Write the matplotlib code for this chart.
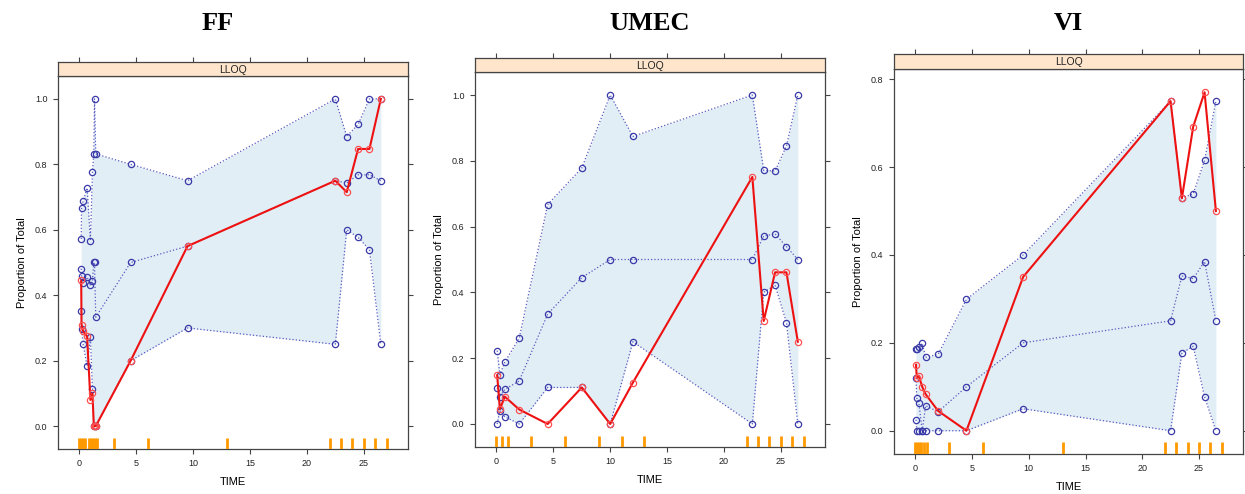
import matplotlib
matplotlib.use('Agg')
import matplotlib.pyplot as plt
from matplotlib.transforms import blended_transform_factory

# ---- FF ----
ff_time = [0.15, 0.18, 0.32, 0.67, 0.96, 1.14, 1.26, 1.32, 1.43, 4.5, 9.5, 22.5, 23.5, 24.5, 25.5, 26.5]
ff_hi = [0.572, 0.667, 0.687, 0.728, 0.567, 0.777, 0.832, 1.0, 0.832, 0.80, 0.75, 1.0, 0.885, 0.922, 1.0, 1.0]
ff_med = [0.481, 0.46, 0.436, 0.455, 0.43, 0.444, 0.50, 0.50, 0.333, 0.50, 0.55, 0.75, 0.743, 0.768, 0.768, 0.75]
ff_lo = [0.352, 0.296, 0.25, 0.183, 0.271, 0.113, 0.0, 0.0, 0.0, 0.20, 0.30, 0.25, 0.60, 0.577, 0.539, 0.25]
ff_obs = [0.445, 0.31, 0.29, 0.274, 0.08, 0.10, 0.0, 0.0, 0.0, 0.20, 0.55, 0.75, 0.715, 0.847, 0.847, 1.0]
ff_rug = [0, 0.17, 0.33, 0.5, 0.83, 1, 1.17, 1.33, 1.5, 3, 6, 13, 22, 23, 24, 25, 26, 27]

# ---- UMEC ----
umec_time = [0.06, 0.3, 0.73, 2.0, 4.5, 7.5, 10, 12, 22.5, 23.5, 24.5, 25.5, 26.5]
umec_hi = [0.223, 0.15, 0.188, 0.261, 0.667, 0.778, 1.0, 0.874, 1.0, 0.771, 0.769, 0.845, 1.0]
umec_med = [0.11, 0.083, 0.105, 0.131, 0.334, 0.445, 0.50, 0.50, 0.50, 0.571, 0.578, 0.539, 0.50]
umec_lo = [0.0, 0.04, 0.022, 0.0, 0.111, 0.111, 0.0, 0.25, 0.0, 0.40, 0.422, 0.308, 0.0]
umec_obs = [0.148, 0.045, 0.083, 0.044, 0.0, 0.111, 0.0, 0.126, 0.751, 0.313, 0.461, 0.461, 0.25]
umec_rug = [0, 0.5, 1, 3, 6, 9, 11, 13, 22, 23, 24, 25, 26, 27]

# ---- VI ----
vi_time = [0.05, 0.12, 0.3, 0.6, 0.9, 2.0, 4.5, 9.5, 22.5, 23.5, 24.5, 25.5, 26.5]
vi_hi = [0.186, 0.186, 0.19, 0.199, 0.167, 0.174, 0.299, 0.40, 0.75, 0.529, 0.539, 0.615, 0.75]
vi_med = [0.12, 0.074, 0.063, 0.0, 0.057, 0.043, 0.10, 0.20, 0.25, 0.352, 0.346, 0.385, 0.25]
vi_lo = [0.025, 0.0, 0.0, 0.0, 0.0, 0.0, 0.0, 0.05, 0.0, 0.177, 0.192, 0.077, 0.0]
vi_obs = [0.15, 0.12, 0.125, 0.10, 0.083, 0.045, 0.0, 0.35, 0.75, 0.529, 0.692, 0.77, 0.50]
vi_rug = [0, 0.17, 0.33, 0.5, 0.75, 1, 3, 6, 13, 22, 23, 24, 25, 26, 27]

titles = ['FF', 'UMEC', 'VI']
strip_label = 'LLOQ'
x_ticks = [0, 5, 10, 15, 20, 25]

plt.rcParams['font.family'] = ['Liberation Sans', 'DejaVu Sans']

fig = plt.figure(figsize=(12.45, 4.94), dpi=100)

# panel boxes in pixels: left, right, strip top, axis top, axis bottom
boxes = [(58, 408, 62, 76, 449), (475, 825, 58, 72, 447), (894, 1243, 54, 69, 454)]
title_x = [218, 650, 1068]
W, H = 1245, 494

panels = [
    (ff_time, ff_hi, ff_med, ff_lo, ff_obs, ff_rug, (-0.07, 1.07), [0, 0.2, 0.4, 0.6, 0.8, 1.0]),
    (umec_time, umec_hi, umec_med, umec_lo, umec_obs, umec_rug, (-0.07, 1.07), [0, 0.2, 0.4, 0.6, 0.8, 1.0]),
    (vi_time, vi_hi, vi_med, vi_lo, vi_obs, vi_rug, (-0.053, 0.823), [0, 0.2, 0.4, 0.6, 0.8]),
]

blue = '#3a3aa8'
line_blue = '#5a5ac0'
axis_col = '#444444'

for i, (t, hi, med, lo, obs, rug, ylim, yt) in enumerate(panels):
    l, r, st, at, ab = boxes[i]
    ax = fig.add_axes([l / W, 1 - ab / H, (r - l) / W, (ab - at) / H])
    sx = fig.add_axes([l / W, 1 - at / H, (r - l) / W, (at - st) / H])

    # prediction band
    ax.fill_between(t, lo, hi, color='#e1eef6', linewidth=0, zorder=1)
    for s in (hi, med, lo):
        ax.plot(t, s, linestyle=':', color=line_blue, linewidth=0.9, zorder=2)
        ax.plot(t, s, linestyle='none', marker='o', markersize=4.5, markerfacecolor='none',
                markeredgecolor=blue, markeredgewidth=0.9, zorder=3)
    ax.plot(t, obs, color='#ee1111', linewidth=1.5, zorder=4)
    ax.plot(t, obs, linestyle='none', marker='o', markersize=4.5, markerfacecolor='none',
            markeredgecolor='#ff5050', markeredgewidth=0.9, zorder=5)

    # rug at bottom
    trans = blended_transform_factory(ax.transData, ax.transAxes)
    for x in rug:
        ax.plot([x, x], [0, 0.03], color='#ff9900', linewidth=2, transform=trans,
                solid_capstyle='butt', zorder=3)

    ax.set_xlim(-1.89, 28.89)
    ax.set_ylim(*ylim)
    ax.set_xticks(x_ticks)
    ax.set_yticks(yt)
    ax.set_yticklabels(['%.1f' % v for v in yt])
    ax.tick_params(axis='both', direction='out', length=3.5, width=0.8, color=axis_col,
                   labelsize=6.5, labelcolor='#222222', pad=4)
    ax.tick_params(axis='y', right=True, labelright=False)
    for sp in ax.spines.values():
        sp.set_color(axis_col)
        sp.set_linewidth(0.9)
    ax.set_xlabel('TIME', fontsize=8, labelpad=6)
    ax.set_ylabel('Proportion of Total', fontsize=8, labelpad=6)

    # strip
    sx.set_facecolor('#ffe5cc')
    sx.set_xlim(-1.89, 28.89)
    sx.set_ylim(0, 1)
    sx.set_xticks(x_ticks)
    sx.set_yticks([])
    sx.tick_params(axis='x', direction='out', length=3.5, width=0.8, color=axis_col,
                   top=True, bottom=False, labeltop=False, labelbottom=False)
    for sp in sx.spines.values():
        sp.set_color(axis_col)
        sp.set_linewidth(0.9)
    sx.text(0.5, 0.45, strip_label, transform=sx.transAxes, ha='center', va='center',
            fontsize=7.5, color='#222222')

    fig.text(title_x[i] / W, 1 - 24 / H, titles[i], ha='center', va='center',
             fontsize=19, fontweight='bold', family='Liberation Serif')

plt.savefig('out.png', dpi=100)
